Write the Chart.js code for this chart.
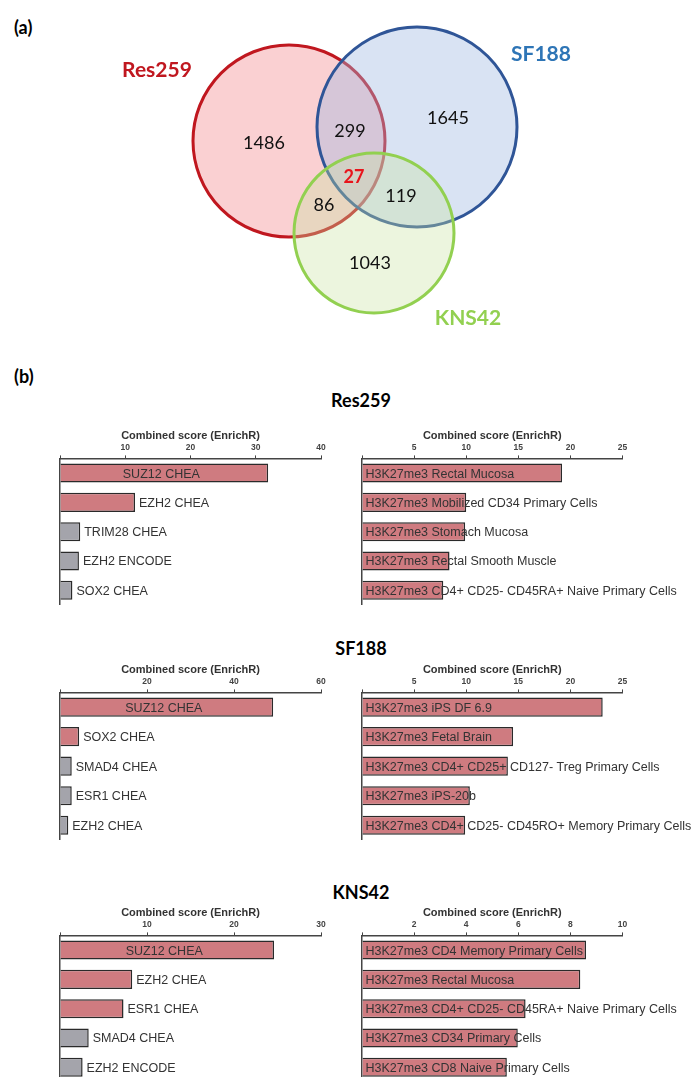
<!DOCTYPE html>
<html>
<head>
<meta charset="utf-8">
<script src="https://cdn.jsdelivr.net/npm/chart.js@4.4.0/dist/chart.umd.min.js"></script>
<style>
  body { margin: 0; background: #fff; width: 695px; height: 1077px; overflow: hidden; position: relative; }
  canvas { position: absolute; }
  .tag { position: absolute; font-family: Lato, "Open Sans", sans-serif; font-weight: bold; font-size: 18px; color: #000; }
  .sec { position: absolute; left: 261px; width: 200px; text-align: center; font-family: Lato, "Open Sans", sans-serif; font-weight: bold; font-size: 18px; color: #000; line-height: 20px; }
</style>
</head>
<body>
<div class="tag" style="left:14px;top:16px">(a)</div>
<canvas id="venn" width="695" height="345" style="left:0;top:0"></canvas>

<div class="tag" style="left:14px;top:365px">(b)</div>
<div class="sec" style="top:390px">Res259</div>
<canvas id="res259Tf" width="347" height="179" style="left:0;top:426px"></canvas>
<canvas id="res259Hist" width="348" height="179" style="left:347px;top:426px"></canvas>

<div class="sec" style="top:638px">SF188</div>
<canvas id="sf188Tf" width="347" height="180" style="left:0;top:660px"></canvas>
<canvas id="sf188Hist" width="348" height="180" style="left:347px;top:660px"></canvas>

<div class="sec" style="top:882px">KNS42</div>
<canvas id="kns42Tf" width="347" height="179" style="left:0;top:903px"></canvas>
<canvas id="kns42Hist" width="348" height="179" style="left:347px;top:903px"></canvas>

<script>
// =============================
// (a) Venn: genes per region
// =============================
const vennSets = ['Res259', 'SF188', 'KNS42'];
const vennRegions = ['Res259', 'SF188', 'KNS42', 'Res259+SF188', 'Res259+KNS42', 'SF188+KNS42', 'all three'];
const vennCounts = [1486, 1645, 1043, 299, 86, 119, 27];

// =============================
// (b) EnrichR combined scores
// =============================
const res259TfLabels = ['SUZ12 CHEA', 'EZH2 CHEA', 'TRIM28 CHEA', 'EZH2 ENCODE', 'SOX2 CHEA'];
const res259TfScores = [31.9, 11.5, 3.1, 2.9, 1.9];
const res259TfSignif = [true, true, false, false, false];
const res259HistLabels = ['H3K27me3 Rectal Mucosa', 'H3K27me3 Mobilized CD34 Primary Cells', 'H3K27me3 Stomach Mucosa', 'H3K27me3 Rectal Smooth Muscle', 'H3K27me3 CD4+ CD25- CD45RA+ Naive Primary Cells'];
const res259HistScores = [19.2, 10.0, 9.9, 8.4, 7.8];

const sf188TfLabels = ['SUZ12 CHEA', 'SOX2 CHEA', 'SMAD4 CHEA', 'ESR1 CHEA', 'EZH2 CHEA'];
const sf188TfScores = [49.0, 4.4, 2.7, 2.7, 1.9];
const sf188TfSignif = [true, true, false, false, false];
const sf188HistLabels = ['H3K27me3 iPS DF 6.9', 'H3K27me3 Fetal Brain', 'H3K27me3 CD4+ CD25+ CD127- Treg Primary Cells', 'H3K27me3 iPS-20b', 'H3K27me3 CD4+ CD25- CD45RO+ Memory Primary Cells'];
const sf188HistScores = [23.1, 14.5, 14.0, 10.35, 9.9];

const kns42TfLabels = ['SUZ12 CHEA', 'EZH2 CHEA', 'ESR1 CHEA', 'SMAD4 CHEA', 'EZH2 ENCODE'];
const kns42TfScores = [24.6, 8.3, 7.3, 3.3, 2.6];
const kns42TfSignif = [true, true, true, false, false];
const kns42HistLabels = ['H3K27me3 CD4 Memory Primary Cells', 'H3K27me3 Rectal Mucosa', 'H3K27me3 CD4+ CD25- CD45RA+ Naive Primary Cells', 'H3K27me3 CD34 Primary Cells', 'H3K27me3 CD8 Naive Primary Cells'];
const kns42HistScores = [8.6, 8.38, 6.28, 5.98, 5.56];

// axis ticks (top axis)
const res259TfTicks = [10, 20, 30, 40];
const sf188TfTicks = [20, 40, 60];
const kns42TfTicks = [10, 20, 30];
const histTicks25 = [5, 10, 15, 20, 25];
const histTicks10 = [2, 4, 6, 8, 10];

// ---- Venn layout (diagram geometry, not data)
const vennCircles = [
    { x: 289, y: 141, r: 96 },
    { x: 417, y: 127, r: 100 },
    { x: 374, y: 233, r: 80 }
];
const vennCountPos = [[264, 143], [448, 118], [370, 263], [350, 131], [324, 205], [401, 196], [354, 177]];
const vennSetPos = [[157, 70], [541, 54], [468, 318]];
const vennFill = ['rgba(245, 150, 155, 0.45)', 'rgba(160, 185, 225, 0.4)', 'rgba(200, 225, 160, 0.35)'];
const vennStroke = ['#c0171f', '#2f5597', '#92d050'];
const vennText = ['#c0171f', '#2e75b6', '#92d050'];

const vennLabels = {
    id: 'vennLabels',
    afterDatasetsDraw(chart) {
        const { ctx, scales: { x, y } } = chart;
        ctx.save();
        ctx.textAlign = 'center';
        ctx.textBaseline = 'middle';
        vennCounts.forEach((n, i) => {
            const last = i === vennCounts.length - 1;
            ctx.font = (last ? 'bold ' : '') + '18px Lato, "Open Sans", sans-serif';
            ctx.fillStyle = last ? '#e8141c' : '#111';
            ctx.fillText(String(n), x.getPixelForValue(vennCountPos[i][0]), y.getPixelForValue(vennCountPos[i][1]));
        });
        ctx.font = 'bold 21px Lato, "Open Sans", sans-serif';
        vennSets.forEach((s, i) => {
            ctx.fillStyle = vennText[i];
            ctx.fillText(s, x.getPixelForValue(vennSetPos[i][0]), y.getPixelForValue(vennSetPos[i][1]));
        });
        ctx.restore();
    }
};

new Chart(document.getElementById('venn'), {
    type: 'bubble',
    data: {
        datasets: [{
            data: vennCircles,
            backgroundColor: vennFill,
            borderColor: vennStroke,
            borderWidth: 3,
            clip: false
        }]
    },
    options: {
        responsive: false,
        animation: false,
        events: [],
        layout: { padding: 0, autoPadding: false },
        plugins: { legend: { display: false }, tooltip: { enabled: false } },
        scales: {
            x: { type: 'linear', min: 0, max: 695, display: false },
            y: { type: 'linear', min: 0, max: 345, reverse: true, display: false }
        }
    },
    plugins: [vennLabels]
});

// ---- bar labels: TF charts centre the text if it fits, else put it after the bar;
// histone charts always start the text at the axis
const barLabels = {
    id: 'barLabels',
    afterDatasetsDraw(chart, args, opts) {
        const ctx = chart.ctx;
        const meta = chart.getDatasetMeta(0);
        ctx.save();
        ctx.font = '12.5px "Liberation Sans", Arial, sans-serif';
        ctx.fillStyle = '#333';
        ctx.textBaseline = 'middle';
        meta.data.forEach((bar, i) => {
            const text = chart.data.labels[i];
            const w = ctx.measureText(text).width;
            const base = bar.base;
            if (opts.mode === 'start') {
                ctx.textAlign = 'left';
                ctx.fillText(text, base + 3, bar.y + 1);
            } else if (w + 10 < bar.x - base) {
                ctx.textAlign = 'center';
                ctx.fillText(text, (base + bar.x) / 2 - 3, bar.y + 1);
            } else {
                ctx.textAlign = 'left';
                ctx.fillText(text, bar.x + 4, bar.y + 1);
            }
        });
        ctx.restore();
    }
};

const PINK = '#cf7b80';
const GREY = '#a4a4ab';

function makeBars(id, labels, scores, colors, ticks, mode, pad) {
    const max = ticks[ticks.length - 1];
    new Chart(document.getElementById(id), {
        type: 'bar',
        data: {
            labels: labels,
            datasets: [{
                data: scores,
                backgroundColor: colors,
                borderColor: '#2a2a2a',
                borderWidth: 1.5,
                barPercentage: 0.65,
                categoryPercentage: 1
            }]
        },
        options: {
            indexAxis: 'y',
            responsive: false,
            animation: false,
            events: [],
            layout: { padding: pad },
            plugins: {
                legend: { display: false },
                tooltip: { enabled: false },
                barLabels: { mode: mode }
            },
            scales: {
                x: {
                    position: 'top',
                    min: 0,
                    max: max,
                    afterBuildTicks: (axis) => { axis.ticks = [0].concat(ticks).map(v => ({ value: v })); },
                    ticks: {
                        callback: (v) => (v === 0 ? '' : v),
                        font: { family: '"Liberation Sans", Arial, sans-serif', size: 8.5, weight: 'bold' },
                        color: '#444',
                        padding: 3,
                        maxRotation: 0,
                        autoSkip: false
                    },
                    grid: { drawOnChartArea: false, tickLength: 3, color: '#444', lineWidth: 1 },
                    border: { color: '#444', width: 1.5 },
                    title: {
                        display: true,
                        text: 'Combined score (EnrichR)',
                        font: { family: '"Liberation Sans", Arial, sans-serif', size: 11, weight: 'bold' },
                        color: '#333',
                        padding: { top: 0, bottom: -3 }
                    }
                },
                y: {
                    ticks: { display: false },
                    grid: { display: false },
                    border: { color: '#444', width: 1.5 }
                }
            }
        },
        plugins: [barLabels]
    });
}

const tfPad = { left: 52, right: 26, top: 3, bottom: 0 };
const histPad = { left: 7, right: 72.5, top: 3, bottom: 0 };

makeBars('res259Tf', res259TfLabels, res259TfScores, res259TfSignif.map(s => (s ? PINK : GREY)), res259TfTicks, 'fit', tfPad);
makeBars('res259Hist', res259HistLabels, res259HistScores, PINK, histTicks25, 'start', histPad);
makeBars('sf188Tf', sf188TfLabels, sf188TfScores, sf188TfSignif.map(s => (s ? PINK : GREY)), sf188TfTicks, 'fit', tfPad);
makeBars('sf188Hist', sf188HistLabels, sf188HistScores, PINK, histTicks25, 'start', histPad);
makeBars('kns42Tf', kns42TfLabels, kns42TfScores, kns42TfSignif.map(s => (s ? PINK : GREY)), kns42TfTicks, 'fit', tfPad);
makeBars('kns42Hist', kns42HistLabels, kns42HistScores, PINK, histTicks10, 'start', histPad);
</script>
</body>
</html>
